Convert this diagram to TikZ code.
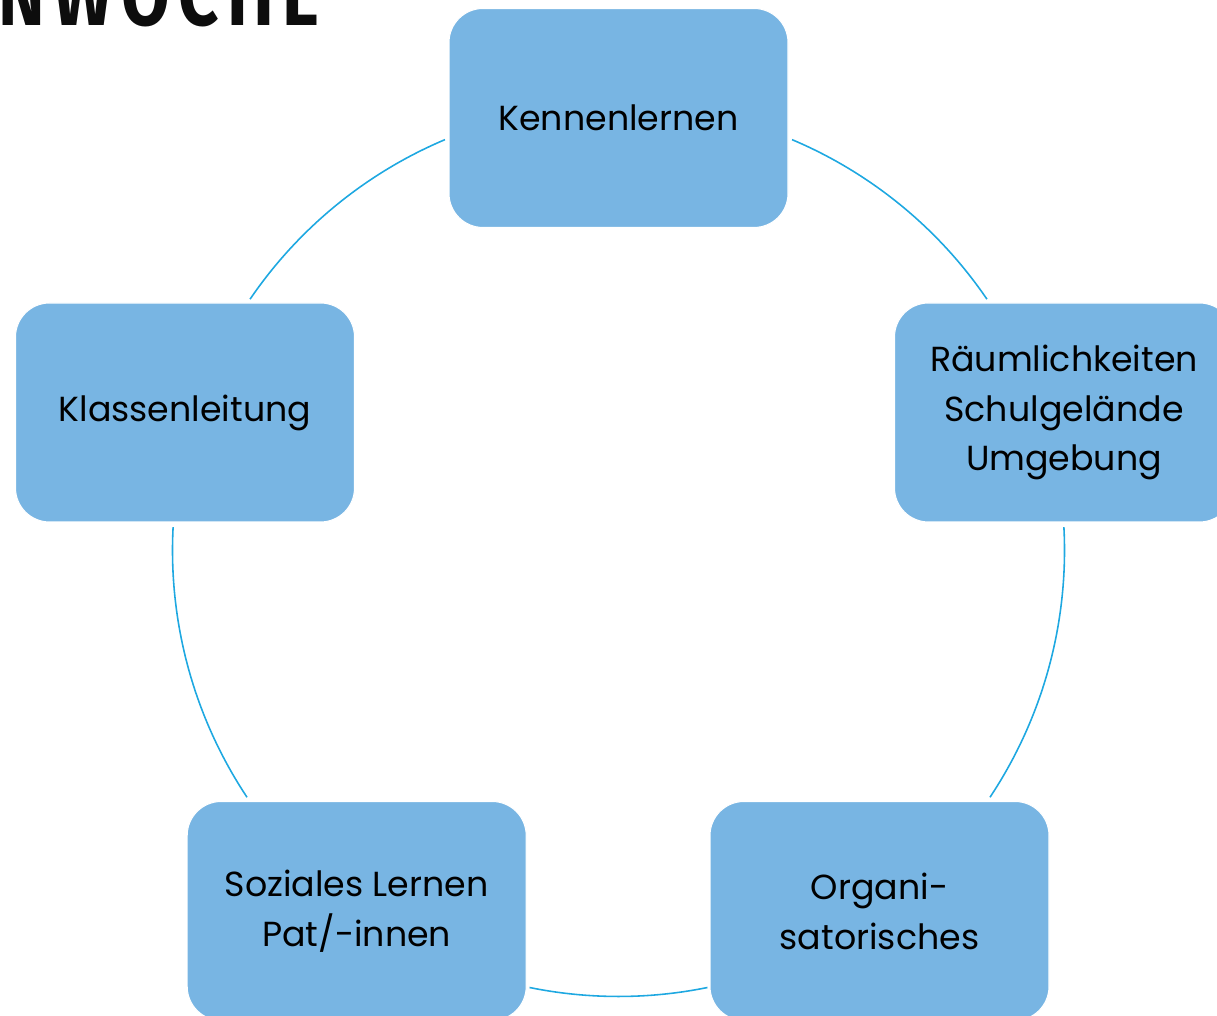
\documentclass[tikz,border=0pt]{standalone}
\usepackage{fontspec}
\setmainfont{Poppins}
\newfontfamily\headfont[LetterSpace=12]{Fira Sans}
\usetikzlibrary{positioning}
\definecolor{boxblue}{RGB}{120,181,227}
\definecolor{ringblue}{RGB}{30,168,225}
\pgfmathsetmacro{\myr}{446}
\newlength{\mybw}
\setlength{\mybw}{33.9mm}
\newlength{\mybh}
\setlength{\mybh}{21.9mm}
\tikzset{
    cyclebox/.style={fill=boxblue, draw=white, line width=0.3pt,
        rounded corners=3.4mm, minimum width=\mybw, minimum height=\mybh,
        inner sep=0pt, align=center, font=\fontsize{9.9}{14.2}\selectfont},
    ringarc/.style={draw=ringblue, line width=0.45pt}
}

\begin{document}
\begin{tikzpicture}[x=0.1mm, y=0.1mm]

\clip (0,0) rectangle (1217,1016);
\coordinate (ring) at (618.5,465.5);

% ring segments between the boxes
\foreach \a/\b in {67.1/34.3, 3/-33.6, -78.5/-101.5, -146.4/-183, 145.7/112.9}
    \draw[ringarc] ([shift={(\a:\myr)}]ring) arc[start angle=\a, end angle=\b, radius=\myr];

\node[cyclebox] (kenn) at (618.5,898) {Kennenlernen};
\node[cyclebox] (raum) at (1064,603.5) {Räumlichkeiten\\Schulgelände\\Umgebung};
\node[cyclebox] (orga) at (879.5,105) {Organi-\\satorisches};
\node[cyclebox] (sozi) at (356.7,105) {Soziales Lernen\\Pat/-innen};
\node[cyclebox] (klas) at (185,603.5) {Klassenleitung};

\node[anchor=base east, inner sep=0pt, text=black!95] (title) at (320,990)
    {\scalebox{0.8}[1]{\headfont\bfseries\fontsize{25}{25}\selectfont NWOCHE}};
\end{tikzpicture}
\end{document}
